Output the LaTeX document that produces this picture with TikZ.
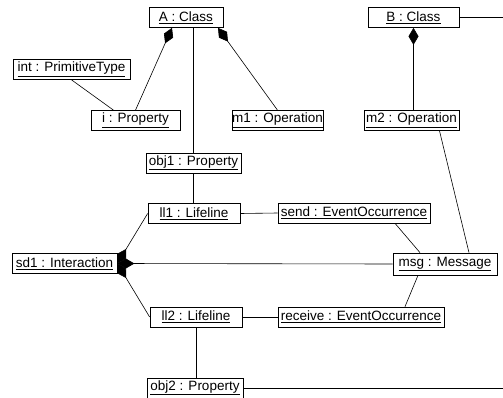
\documentclass[tikz,border=0pt]{standalone}
\usepackage{fontspec}
\setmainfont{Liberation Sans}
\usetikzlibrary{arrows.meta}

\begin{document}
\begin{tikzpicture}[x=1pt,y=-1pt,>/.tip={Diamond[length=17pt,width=10pt]},
    obj/.style={draw,line width=0.7pt,inner sep=0pt,minimum height=20pt,
      font=\fontsize{13.5}{15}\selectfont},
    link/.style={line width=0.6pt}]
    \useasboundingbox (0,0) rectangle (503,398);
    % The class side
    \node[obj,minimum width=74pt] (A) at (186,17.5) {\underline{A : Class}};
    \node[obj,minimum width=91pt] (B) at (413.5,17.5) {\underline{B : Class}};
    \node[obj,minimum width=117pt] (int) at (71.5,69.5) {\underline{int : PrimitiveType}};
    \node[obj,minimum width=89pt] (i) at (135.5,120.5) {\underline{i : Property}};
    \node[obj,minimum width=91pt] (m1) at (277.5,120.5) {\underline{m1 : Operation}};
    \node[obj,minimum width=95pt] (m2) at (411.5,120.5) {\underline{m2 : Operation}};
    \node[obj,minimum width=95pt] (obj1) at (193.5,163) {\underline{obj1 : Property}};
    % The interaction side
    \node[obj,minimum width=92pt] (ll1) at (194,213.5) {\underline{ll1 : Lifeline}};
    \node[obj,minimum width=152pt] (send) at (354,213) {\underline{send : EventOccurrence}};
    \node[obj,minimum width=105pt] (sd1) at (64.5,263.5) {\underline{sd1 : Interaction}};
    \node[obj,minimum width=104pt,minimum height=22pt] (msg) at (445,264) {\underline{msg : Message}};
    \node[obj,minimum width=92pt] (ll2) at (196,317) {\underline{ll2 : Lifeline}};
    \node[obj,minimum width=166pt] (receive) at (361,317) {\underline{receive : EventOccurrence}};
    \node[obj,minimum width=96pt] (obj2) at (195,388) {\underline{obj2 : Property}};
    \coordinate (bout) at (503,17.5);
    \coordinate (oout) at (503,388);

    % The links
    \draw[link,->] (i.north) -- ([xshift=-14pt]A.south);
    \draw[link,->] (m1.north) -- ([xshift=32pt]A.south);
    \draw[link] (obj1.north) -- (obj1.north |- A.south);
    \draw[link] (int.south) -- ([xshift=-22pt]i.north);
    \draw[link,->] (m2.north -| B.south) -- (B.south);
    \draw[link] (B.east) -- (bout);
    \draw[link] ([xshift=28pt]m2.south) -- ([xshift=24pt]msg.north);
    \draw[link] (obj1.south) -- (obj1.south |- ll1.north);
    \draw[link] (ll1.east) -- (send.west);
    \draw[link] ([xshift=41pt]send.south) -- ([xshift=-25pt]msg.north);
    \draw[link,<-] (sd1.east) -- (ll1.west);
    \draw[link,<-] (sd1.east) -- (msg.west);
    \draw[link,<-] (sd1.east) -- (ll2.west);
    \draw[link] ([xshift=-27pt]msg.south) -- ([xshift=44pt]receive.north);
    \draw[link] (ll2.east) -- (receive.west);
    \draw[link] (ll2.south) -- (ll2.south |- obj2.north);
    \draw[link] (obj2.east) -- (oout);
\end{tikzpicture}
\end{document}
